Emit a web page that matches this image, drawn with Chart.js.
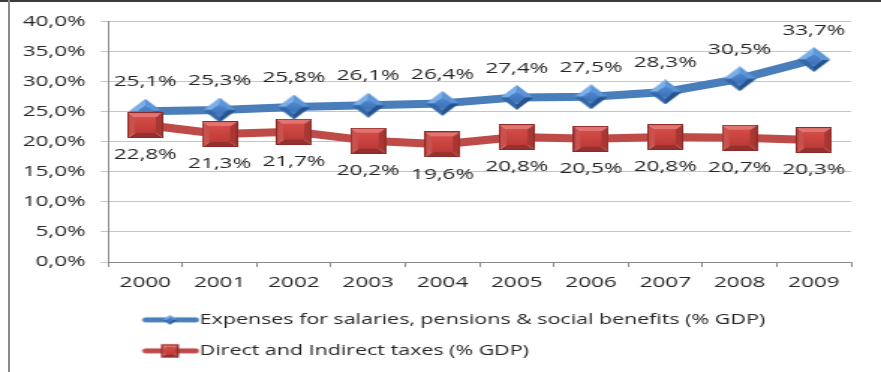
<!DOCTYPE html>
<html>
<head>
<meta charset="utf-8">
<title>Expenses vs taxes (% GDP)</title>
<script src="https://cdn.jsdelivr.net/npm/chart.js@4/dist/chart.umd.min.js"></script>
<style>
  html, body { margin: 0; padding: 0; background: #ffffff; }
  body { width: 881px; height: 372px; position: relative; overflow: hidden; }
  #stage { position: absolute; left: 0; top: 0; width: 588px; height: 372px;
           transform: scaleX(1.4983); transform-origin: 0 0; }
  #frameTop { position: absolute; left: 0; top: 0; width: 881px; height: 2px; background: #3c3c3c; z-index: 2; }
  #frameLeft { position: absolute; left: 8px; top: 0; width: 2px; height: 372px; background: #8a8a8a; z-index: 2; }
</style>
</head>
<body>
<div id="frameTop"></div>
<div id="frameLeft"></div>
<div id="stage"><canvas id="chart" width="588" height="372"></canvas></div>
<script>
// Years on the horizontal axis
const years = ['2000', '2001', '2002', '2003', '2004', '2005', '2006', '2007', '2008', '2009'];

// Series values, % of GDP
const expenses = [25.1, 25.3, 25.8, 26.1, 26.4, 27.4, 27.5, 28.3, 30.5, 33.7];
const taxes = [22.8, 21.3, 21.7, 20.2, 19.6, 20.8, 20.5, 20.8, 20.7, 20.3];

// Series names
const seriesNames = [
  'Expenses for salaries, pensions & social benefits (% GDP)',
  'Direct and Indirect taxes (% GDP)'
];

// Value axis range
const yMin = 0, yMax = 40, yStep = 5;

const FAMILY = '"Open Sans", "DejaVu Sans", sans-serif';
const FONT = { family: FAMILY, size: 15 };
const LEGEND_FONT = { family: FAMILY, size: 14.3 };
const TEXT = '#262626';
const BLUE = '#4a7ebb';
const RED = '#be4b48';

const pct = v => v.toFixed(1).replace('.', ',') + '%';

function makeCanvas(w, h) {
  const c = document.createElement('canvas');
  c.width = w; c.height = h;
  return c;
}

function poly(ctx, pts, fill) {
  ctx.beginPath();
  ctx.moveTo(pts[0][0], pts[0][1]);
  for (let i = 1; i < pts.length; i++) ctx.lineTo(pts[i][0], pts[i][1]);
  ctx.closePath();
  ctx.fillStyle = fill;
  ctx.fill();
}

// Bevelled square marker
function drawSquare(ctx, x0, y0, w, h, b) {
  const x1 = x0 + w, y1 = y0 + h;
  poly(ctx, [[x0, y0], [x1, y0], [x1 - b, y0 + b], [x0 + b, y0 + b]], '#e27470');
  poly(ctx, [[x0, y1], [x1, y1], [x1 - b, y1 - b], [x0 + b, y1 - b]], '#94302d');
  poly(ctx, [[x0, y0], [x0 + b, y0 + b], [x0 + b, y1 - b], [x0, y1]], '#c9524e');
  poly(ctx, [[x1, y0], [x1 - b, y0 + b], [x1 - b, y1 - b], [x1, y1]], '#a83633');
  const g = ctx.createLinearGradient(0, y0 + b, 0, y1 - b);
  g.addColorStop(0, '#d44c47');
  g.addColorStop(1, '#bd3b37');
  ctx.fillStyle = g;
  ctx.fillRect(x0 + b, y0 + b, w - 2 * b, h - 2 * b);
  ctx.strokeStyle = '#8e2b28';
  ctx.lineWidth = 1;
  ctx.strokeRect(x0 + 0.5, y0 + 0.5, w - 1, h - 1);
}

// Bevelled diamond marker
function drawDiamond(ctx, cx, cy, w, h) {
  const T = [cx, cy - h / 2], R = [cx + w / 2, cy], B = [cx, cy + h / 2], L = [cx - w / 2, cy];
  const t = [cx, cy - h / 4], r = [cx + w / 4, cy], b = [cx, cy + h / 4], l = [cx - w / 4, cy];
  poly(ctx, [L, T, t, l], '#7aaee6');
  poly(ctx, [T, R, r, t], '#5b95d8');
  poly(ctx, [R, B, b, r], '#24538f');
  poly(ctx, [B, L, l, b], '#3467a8');
  const g = ctx.createLinearGradient(0, cy - h / 4, 0, cy + h / 4);
  g.addColorStop(0, '#4f8ad2');
  g.addColorStop(1, '#3a70b6');
  poly(ctx, [t, r, b, l], g);
}

const diamondMark = (() => {
  const c = makeCanvas(22, 25);
  drawDiamond(c.getContext('2d'), 11, 12.5, 22, 25);
  return c;
})();

const squareMark = (() => {
  const c = makeCanvas(24, 26);
  drawSquare(c.getContext('2d'), 0, 0, 24, 26, 5);
  return c;
})();

// Legend samples: thick line with a small marker in the middle
function legendIcon(color, kind) {
  const c = makeCanvas(124, 20);
  const ctx = c.getContext('2d');
  ctx.strokeStyle = color;
  ctx.lineWidth = 5;
  ctx.lineCap = 'round';
  ctx.beginPath();
  ctx.moveTo(88, 10);
  ctx.lineTo(121, 10);
  ctx.stroke();
  if (kind === 'diamond') drawDiamond(ctx, 104, 10, 9, 10);
  else drawSquare(ctx, 98, 3.5, 12, 13, 2.5);
  return c;
}
const legendIcons = [legendIcon(BLUE, 'diamond'), legendIcon(RED, 'square')];

// Value labels: above the first series, below the second
const labelShift = [-29, 30];
const valueLabels = {
  id: 'valueLabels',
  afterDatasetsDraw(chart) {
    const ctx = chart.ctx;
    ctx.save();
    ctx.font = '15px ' + FAMILY;
    ctx.fillStyle = TEXT;
    ctx.textAlign = 'center';
    ctx.textBaseline = 'middle';
    chart.data.datasets.forEach((ds, i) => {
      const meta = chart.getDatasetMeta(i);
      meta.data.forEach((pt, j) => {
        ctx.fillText(pct(ds.data[j]), pt.x, pt.y + labelShift[i]);
      });
    });
    ctx.restore();
  }
};

function build() {
  new Chart(document.getElementById('chart'), {
    type: 'line',
    data: {
      labels: years,
      datasets: [
        {
          label: seriesNames[0],
          data: expenses,
          borderColor: BLUE,
          backgroundColor: BLUE,
          borderWidth: 8,
          borderCapStyle: 'round',
          borderJoinStyle: 'round',
          pointStyle: diamondMark,
          pointRadius: 11,
          tension: 0,
          order: 1
        },
        {
          label: seriesNames[1],
          data: taxes,
          borderColor: RED,
          backgroundColor: RED,
          borderWidth: 8,
          borderCapStyle: 'round',
          borderJoinStyle: 'round',
          pointStyle: squareMark,
          pointRadius: 12,
          tension: 0,
          order: 0
        }
      ]
    },
    options: {
      responsive: false,
      animation: false,
      devicePixelRatio: 1,
      events: [],
      layout: { padding: { left: 0, right: 6.7, top: 21.7, bottom: 4 } },
      scales: {
        x: {
          type: 'category',
          offset: true,
          grid: { display: true, drawOnChartArea: false, drawTicks: true, tickLength: 5, offset: true, color: '#8a8a8a' },
          border: { display: true, color: '#8a8a8a', width: 1 },
          ticks: { color: TEXT, font: FONT, padding: 7, maxRotation: 0, autoSkip: false },
          afterFit(scale) { scale.height = 34; }
        },
        y: {
          min: yMin,
          max: yMax,
          grid: { color: '#c4c4c4', tickLength: 5, drawTicks: true },
          border: { display: true, color: '#8a8a8a', width: 1 },
          ticks: { stepSize: yStep, color: TEXT, font: FONT, padding: 10, callback: v => pct(v) },
          afterFit(scale) { scale.width = 72.2; }
        }
      },
      plugins: {
        tooltip: { enabled: false },
        legend: {
          position: 'bottom',
          align: 'start',
          labels: {
            usePointStyle: true,
            pointStyleWidth: 109.45,
            padding: 16.7,
            color: TEXT,
            font: LEGEND_FONT,
            generateLabels(chart) {
              const items = Chart.defaults.plugins.legend.labels.generateLabels(chart);
              items.sort((a, b) => a.datasetIndex - b.datasetIndex);
              items.forEach(it => { it.pointStyle = legendIcons[it.datasetIndex]; });
              return items;
            }
          }
        }
      }
    },
    plugins: [valueLabels]
  });
}

if (document.fonts && document.fonts.load) {
  document.fonts.load('15px "Open Sans"').then(build, build);
} else {
  build();
}
</script>
</body>
</html>
